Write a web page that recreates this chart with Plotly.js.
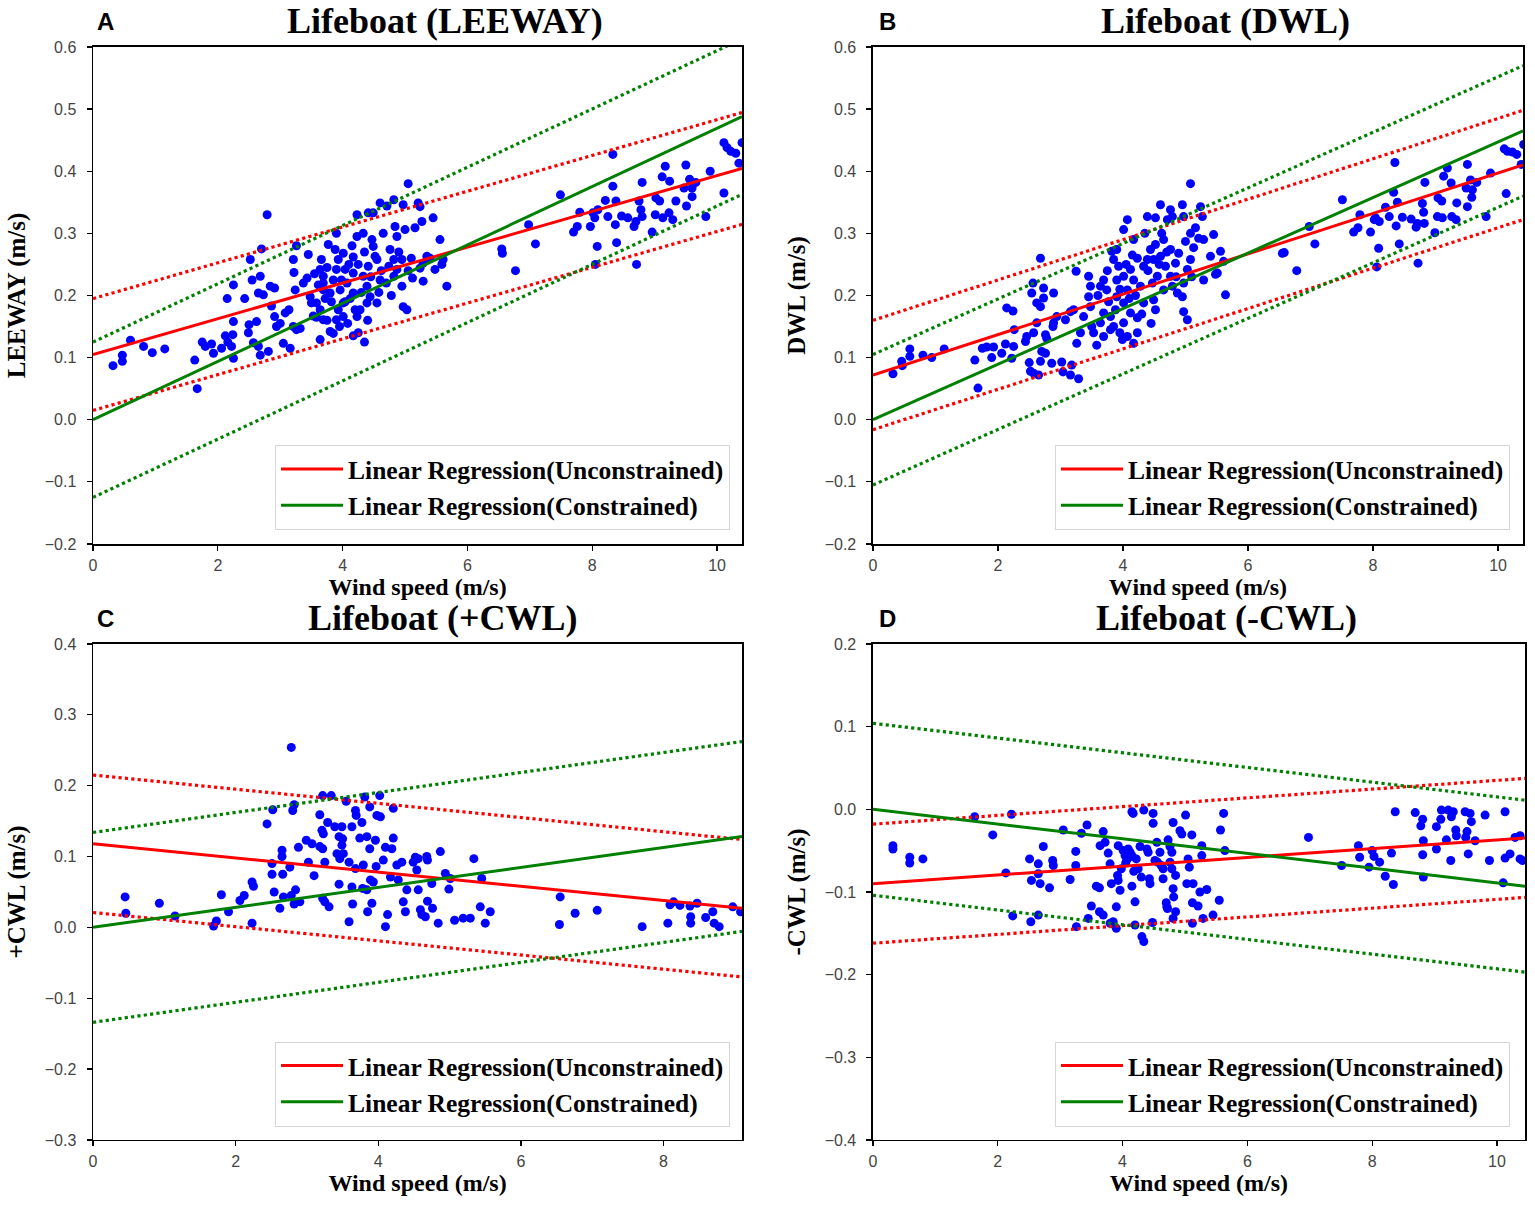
<!DOCTYPE html>
<html>
<head>
<meta charset="utf-8">
<script src="https://cdn.plot.ly/plotly-3.0.1.min.js"></script>
<style>
  html, body { margin: 0; padding: 0; background: #fff; }
  #chart { width: 1535px; height: 1210px; }
</style>
</head>
<body>
<div id="chart"></div>
<script>
// ---- Panel A: LEEWAY vs wind speed ----
var windA = [
  0.32,0.47,0.47,0.60,0.81,0.95,1.15,1.63,1.67,1.75,1.80,1.90,1.93,
  2.06,2.12,2.16,2.24,2.22,2.25,2.25,2.15,2.25,2.43,2.52,2.70,2.79,
  2.50,2.62,2.49,2.57,2.65,2.68,2.81,2.55,2.68,2.65,2.73,2.84,2.91,
  2.86,2.91,2.94,3.00,3.05,3.16,3.08,3.21,3.26,3.32,
  3.14,3.22,3.21,3.26,3.24,3.45,3.37,3.43,3.48,3.50,3.53,3.58,3.64,3.66,3.69,
  3.69,3.64,3.69,3.64,3.80,3.69,3.61,3.77,3.88,3.90,3.93,3.90,3.85,3.96,3.80,
  4.01,3.93,4.01,3.90,3.85,4.04,4.07,4.04,4.01,4.17,4.17,4.17,4.20,4.23,4.17,
  4.23,4.23,4.33,4.41,4.49,4.47,4.49,4.52,4.41,4.33,4.39,4.44,4.55,4.39,4.28,
  4.60,4.55,4.65,4.60,4.71,4.82,4.84,4.87,4.76,4.82,4.74,4.87,4.95,4.82,4.95,
  5.00,5.03,4.97,4.97,5.05,5.10,5.16,5.21,5.27,5.24,5.29,5.35,5.40,5.48,5.45,
  5.56,5.59,5.61,5.67,5.29,5.24,
  3.55,3.75,3.82,3.98,4.10,4.12,4.25,4.30,4.45,4.58,4.62,4.70,4.78,
  4.90,5.05,5.12,4.15,4.35,3.72,3.58,3.95,4.08,4.25,4.40,4.35,3.75,
  6.55,6.56,6.77,6.98,7.09,7.49,7.80,7.76,7.70,7.97,8.04,8.01,8.09,8.08,8.05,
  8.21,8.25,8.33,8.33,8.38,8.37,8.39,8.47,8.57,8.67,8.70,8.71,8.75,8.78,8.80,
  8.80,8.96,9.01,9.02,9.08,9.12,9.13,9.17,9.23,9.24,9.29,9.34,9.50,9.51,9.47,
  9.56,9.60,9.60,9.66,9.82,9.89,10.11,10.11,10.16,10.22,10.30,10.35,10.40
];
var leewayA = [
  0.087,0.094,0.104,0.128,0.118,0.108,0.114,0.096,0.050,0.125,0.118,0.122,0.107,
  0.115,0.135,0.125,0.137,0.118,0.099,0.158,0.195,0.217,0.195,0.258,0.275,0.330,
  0.153,0.158,0.140,0.124,0.118,0.104,0.110,0.225,0.231,0.204,0.201,0.215,0.212,
  0.183,0.166,0.150,0.155,0.123,0.115,0.172,0.150,0.145,0.147,
  0.177,0.237,0.258,0.280,0.209,0.266,0.220,0.228,0.198,0.188,0.167,0.188,0.242,0.258,0.231,
  0.209,0.177,0.161,0.129,0.142,0.220,0.217,0.282,0.274,0.300,0.258,0.242,0.225,0.209,0.204,
  0.188,0.177,0.166,0.161,0.139,0.190,0.220,0.242,0.268,0.262,0.236,0.204,0.177,0.166,0.135,
  0.295,0.330,0.300,0.333,0.333,0.290,0.279,0.263,0.247,0.231,0.215,0.198,0.188,0.188,0.177,
  0.225,0.258,0.300,0.349,0.344,0.354,0.311,0.295,0.274,0.258,0.247,0.242,0.215,0.231,0.258,
  0.306,0.177,0.182,0.346,0.380,0.260,0.309,0.349,0.319,0.343,0.252,0.263,0.260,0.242,0.325,
  0.290,0.250,0.258,0.215,0.223,0.244,
  0.235,0.245,0.190,0.225,0.250,0.195,0.250,0.205,0.230,0.205,0.240,0.220,0.200,
  0.270,0.240,0.228,0.280,0.270,0.195,0.165,0.150,0.155,0.140,0.160,0.125,0.160,
  0.275,0.268,0.240,0.314,0.283,0.362,0.334,0.311,0.302,0.311,0.325,0.333,0.338,0.279,0.250,
  0.353,0.327,0.427,0.376,0.352,0.314,0.285,0.328,0.325,0.311,0.319,0.250,0.352,0.338,0.327,
  0.382,0.302,0.330,0.357,0.352,0.391,0.325,0.408,0.333,0.384,0.322,0.352,0.410,0.344,0.373,
  0.387,0.373,0.359,0.382,0.327,0.400,0.365,0.446,0.438,0.432,0.429,0.413,0.446
];

// ---- Panel B: DWL vs wind speed ----
var windB = [
  0.32,0.46,0.47,0.59,0.59,0.80,0.94,1.14,1.63,1.68,1.75,1.82,1.93,
  1.90,2.06,2.12,2.25,2.22,2.14,2.24,2.26,2.44,2.46,2.50,2.52,
  2.57,2.62,2.56,2.54,2.62,2.68,2.73,2.68,2.73,2.76,2.78,2.70,2.68,2.76,2.86,
  2.88,2.89,2.89,2.94,2.57,2.65,3.02,3.04,3.16,3.18,3.29,
  3.08,3.16,3.21,3.26,3.25,3.32,3.37,3.45,3.48,3.45,3.48,3.50,3.53,3.58,3.64,
  3.69,3.69,3.64,3.69,3.74,3.77,3.80,3.85,3.88,3.90,3.90,3.93,3.85,3.82,3.90,
  4.01,4.07,4.17,4.23,4.12,4.17,4.01,4.07,4.01,4.12,4.01,4.07,3.99,4.17,4.23,
  4.23,4.33,4.28,4.33,4.39,4.44,4.52,4.49,4.39,4.52,4.60,4.71,4.76,4.79,4.95,
  4.97,5.08,5.16,5.24,5.27,5.21,5.13,5.08,5.03,4.97,4.95,4.97,5.03,4.76,4.65,
  4.60,4.55,4.49,4.52,4.65,4.76,4.84,4.89,5.00,5.29,5.40,5.45,5.56,5.61,5.48,
  5.51,5.29,5.64,5.08,4.47,4.68,4.79,4.87,
  3.60,3.75,3.95,4.05,4.10,4.20,4.30,4.40,4.58,4.70,4.85,5.10,4.15,4.35,4.62,3.80,3.95,4.45,
  6.55,6.58,6.78,6.98,7.07,7.51,7.79,7.76,7.69,7.96,8.02,8.04,8.10,8.09,8.06,
  8.20,8.26,8.35,8.33,8.39,8.37,8.42,8.47,8.61,8.69,8.71,8.72,8.79,8.81,8.82,
  8.83,8.99,9.03,9.04,9.10,9.13,9.11,9.19,9.26,9.25,9.33,9.34,9.51,9.51,9.49,
  9.56,9.59,9.58,9.66,9.81,9.88,10.13,10.10,10.15,10.23,10.30,10.37,10.41
];
var dwlB = [
  0.074,0.094,0.087,0.102,0.114,0.104,0.100,0.114,0.096,0.051,0.115,0.117,0.117,
  0.100,0.107,0.122,0.118,0.099,0.180,0.175,0.145,0.126,0.134,0.092,0.078,
  0.140,0.156,0.220,0.204,0.188,0.182,0.196,0.260,0.212,0.137,0.131,0.110,0.094,0.107,0.091,
  0.150,0.156,0.204,0.166,0.075,0.072,0.093,0.077,0.072,0.088,0.066,
  0.161,0.174,0.177,0.123,0.239,0.140,0.166,0.231,0.215,0.198,0.182,0.150,0.140,0.120,0.156,
  0.172,0.134,0.215,0.225,0.209,0.190,0.166,0.150,0.177,0.198,0.225,0.247,0.258,0.271,0.274,
  0.306,0.322,0.290,0.260,0.242,0.225,0.231,0.209,0.188,0.172,0.156,0.134,0.129,0.123,0.164,
  0.140,0.188,0.215,0.247,0.258,0.274,0.282,0.258,0.327,0.325,0.346,0.322,0.338,0.327,0.346,
  0.327,0.300,0.309,0.343,0.327,0.292,0.277,0.258,0.242,0.220,0.198,0.174,0.161,0.274,0.290,
  0.263,0.231,0.193,0.177,0.209,0.231,0.252,0.268,0.287,0.290,0.263,0.298,0.271,0.255,0.234,
  0.236,0.225,0.201,0.380,0.220,0.247,0.215,0.204,
  0.200,0.240,0.210,0.250,0.195,0.200,0.170,0.240,0.250,0.270,0.230,0.230,0.265,0.300,0.300,0.145,0.140,0.155,
  0.268,0.269,0.240,0.311,0.283,0.354,0.330,0.309,0.302,0.302,0.322,0.325,0.319,0.276,0.246,
  0.342,0.327,0.414,0.366,0.350,0.312,0.283,0.326,0.323,0.310,0.316,0.252,0.348,0.334,0.316,
  0.382,0.301,0.327,0.357,0.352,0.392,0.325,0.405,0.327,0.381,0.322,0.349,0.411,0.343,0.373,
  0.386,0.370,0.358,0.382,0.327,0.397,0.364,0.436,0.432,0.431,0.427,0.411,0.443
];

// ---- Panel C: +CWL vs wind speed ----
var windC = [
  0.45,0.46,0.93,1.15,1.69,1.73,1.80,1.90,2.06,2.12,2.23,2.23,2.25,
  2.44,2.51,2.51,2.52,2.54,2.62,2.65,2.65,2.66,2.67,2.76,2.78,2.80,2.82,2.84,
  2.82,2.90,2.88,2.99,3.02,3.07,3.10,3.18,3.18,3.21,3.23,3.22,3.25,3.22,3.25,
  3.31,3.22,3.29,3.34,3.39,3.42,3.46,3.45,3.49,3.50,3.49,3.51,3.45,3.55,3.59,
  3.59,3.63,3.63,3.64,3.68,3.69,3.68,3.74,3.77,3.78,3.79,3.81,3.84,3.84,3.85,
  3.88,3.88,3.89,3.93,3.91,3.96,3.98,4.02,4.03,3.97,4.07,4.10,4.10,4.13,4.17,
  4.19,4.21,4.21,4.26,4.28,4.33,4.35,4.38,4.40,4.52,4.49,4.56,4.54,4.56,4.59,
  4.61,4.66,4.68,4.69,4.69,4.75,4.76,4.84,4.87,4.94,4.99,5.01,5.07,5.19,5.29,
  5.34,5.43,5.45,5.50,5.57,6.55,6.54,6.76,7.07,7.70,8.06,8.09,8.14,8.23,8.37,
  8.47,8.38,8.38,8.59,8.69,8.71,8.78,8.97,9.08,2.78
];
var pcwlC = [
  0.043,0.020,0.034,0.016,0.002,0.009,0.046,0.022,0.038,0.045,0.006,0.064,0.058,
  0.146,0.090,0.075,0.166,0.050,0.027,0.100,0.109,0.075,0.043,0.085,0.045,0.165,0.173,0.053,
  0.033,0.036,0.113,0.123,0.092,0.118,0.073,0.159,0.114,0.137,0.132,0.111,0.092,0.041,0.036,
  0.029,0.186,0.148,0.186,0.142,0.104,0.097,0.061,0.142,0.125,0.116,0.104,0.128,0.178,0.092,
  0.008,0.142,0.057,0.033,0.165,0.158,0.083,0.126,0.148,0.055,0.088,0.184,0.053,0.128,0.022,
  0.170,0.111,0.067,0.064,0.034,0.123,0.158,0.186,0.156,0.086,0.095,0.113,0.001,0.018,0.071,
  0.111,0.126,0.168,0.088,0.067,0.092,0.036,0.022,0.053,0.099,0.092,0.097,0.081,0.053,0.025,
  0.018,0.015,0.100,0.095,0.037,0.062,0.027,0.006,0.107,0.076,0.054,0.069,0.010,0.013,0.013,
  0.097,0.029,0.069,0.006,0.022,0.043,0.004,0.020,0.024,0.001,0.006,0.032,0.036,0.031,0.030,
  0.034,0.015,0.006,0.014,0.022,0.006,0.001,0.029,0.022,0.254
];

// ---- Panel D: -CWL vs wind speed ----
var windD = [
  0.32,0.32,0.59,0.59,0.80,1.63,1.92,2.13,2.22,2.24,2.51,2.53,2.54,2.65,2.65,
  2.68,2.65,2.73,2.83,2.88,2.89,3.05,3.16,3.25,3.25,3.26,3.34,3.43,3.45,3.50,
  3.58,3.63,3.63,3.64,3.69,3.69,3.72,3.77,3.80,3.80,3.82,3.85,3.90,3.90,3.92,
  3.93,3.96,3.93,4.01,4.04,4.07,4.09,4.12,4.15,4.17,4.15,4.15,4.20,4.20,4.25,
  4.31,4.34,4.34,4.39,4.41,4.44,4.43,4.48,4.49,4.49,4.52,4.56,4.60,4.65,4.65,
  4.70,4.71,4.72,4.73,4.76,4.79,4.76,4.79,4.81,4.81,4.82,4.85,4.85,4.81,4.92,
  4.95,5.01,5.03,5.05,5.07,5.11,5.12,5.13,5.12,5.21,5.24,5.27,5.27,5.29,5.35,
  5.45,5.55,5.57,5.62,5.64,6.98,7.51,7.78,7.80,8.00,8.03,7.95,8.12,8.21,8.31,
  8.34,8.37,8.69,8.81,8.78,8.82,8.81,8.82,9.03,9.03,9.10,9.11,9.19,9.26,9.22,
  9.30,9.27,9.34,9.35,9.49,9.57,9.59,9.52,9.50,9.54,9.65,9.81,9.88,10.13,10.13,
  10.21,10.10,10.29,10.37,10.37,10.41,
  4.05,4.10,4.22,4.28,3.98,4.18,4.30,4.55,4.62
];
var ncwlD = [
  -0.044,-0.048,-0.058,-0.065,-0.060,-0.009,-0.031,-0.077,-0.006,-0.129,-0.060,-0.136,-0.086,-0.066,-0.128,
  -0.090,-0.078,-0.045,-0.095,-0.062,-0.068,-0.025,-0.085,-0.051,-0.068,-0.142,-0.029,-0.019,-0.132,-0.117,
  -0.093,-0.095,-0.124,-0.044,-0.027,-0.128,-0.040,-0.053,-0.066,-0.138,-0.090,-0.136,-0.144,-0.118,-0.080,
  -0.086,-0.098,-0.044,-0.050,-0.056,-0.061,-0.048,-0.052,-0.056,-0.005,-0.003,-0.093,-0.112,-0.140,-0.072,
  -0.154,-0.160,-0.001,-0.048,-0.052,-0.090,-0.084,-0.137,-0.017,-0.005,-0.062,-0.064,-0.052,-0.072,-0.084,
  -0.113,-0.118,-0.120,-0.037,-0.045,-0.052,-0.064,-0.072,-0.016,-0.096,-0.106,-0.124,-0.080,-0.132,-0.026,
  -0.030,-0.007,-0.090,-0.060,-0.070,-0.031,-0.138,-0.090,-0.113,-0.117,-0.100,-0.044,-0.056,-0.132,-0.097,
  -0.128,-0.110,-0.025,-0.005,-0.050,-0.034,-0.068,-0.044,-0.058,-0.050,-0.057,-0.070,-0.064,-0.081,-0.053,
  -0.091,-0.003,-0.004,-0.012,-0.020,-0.038,-0.055,-0.082,-0.021,-0.048,-0.012,-0.001,-0.037,-0.062,-0.001,
  -0.003,-0.009,-0.025,-0.032,-0.003,-0.005,-0.015,-0.027,-0.034,-0.054,-0.038,-0.007,-0.062,-0.003,-0.059,
  -0.054,-0.089,-0.034,-0.032,-0.060,-0.062,
  -0.065,-0.058,-0.060,-0.045,-0.072,-0.075,-0.082,-0.040,-0.068
];

// ---- regression fits, one entry per panel (A, B, C, D) ----
var panelLetters = ['A', 'B', 'C', 'D'];
var panelTitles = ['Lifeboat (LEEWAY)', 'Lifeboat (DWL)', 'Lifeboat (+CWL)', 'Lifeboat (-CWL)'];
var yLabels = ['LEEWAY (m/s)', 'DWL (m/s)', '+CWL (m/s)', '-CWL (m/s)'];
var xMax = [10.4, 10.4, 9.1, 10.45];
var yRanges = [[-0.2, 0.6], [-0.2, 0.6], [-0.3, 0.4], [-0.4, 0.2]];
var freeIntercept = [0.105, 0.072, 0.118, -0.090];
var freeSlope = [0.0288, 0.0325, -0.0100, 0.0053];
var freeBand = [0.090, 0.088, 0.097, 0.072];
var fixedSlope = [0.0469, 0.0447, 0.0141, -0.0089];
var fixedBand = [0.125, 0.105, 0.134, 0.104];

var windSets = [windA, windB, windC, windD];
var valueSets = [leewayA, dwlB, pcwlC, ncwlD];

var RED = '#ff0000', GREEN = '#008000', BLUE = '#0000ff';
var serif = 'Liberation Serif, Times New Roman, serif';
var sans = 'Liberation Sans, Arial, sans-serif';

// plot-area boxes in paper fractions
var xDomains = [[0.0606, 0.4834], [0.5687, 0.9922], [0.0606, 0.4834], [0.5687, 0.9935]];
var yDomains = [[0.5504, 0.9612], [0.5504, 0.9612], [0.0579, 0.4678], [0.0579, 0.4678]];
var titleCenters = [445, 1225, 443, 1226];

var data = [];
var layout = {
  width: 1535, height: 1210,
  margin: {l: 0, r: 0, t: 0, b: 0},
  paper_bgcolor: '#fff', plot_bgcolor: '#fff',
  showlegend: true,
  annotations: []
};

function lineTrace(i, x1, y0, y1, color, dash, name, legendRef, show) {
  var sfx = i === 0 ? '' : String(i + 1);
  return {
    x: [0, x1], y: [y0, y1],
    xaxis: 'x' + sfx, yaxis: 'y' + sfx,
    mode: 'lines', type: 'scatter',
    line: {color: color, width: dash ? 3.2 : 3, dash: dash || 'solid'},
    name: name, showlegend: show, legend: legendRef, legendgroup: name,
    hoverinfo: 'skip'
  };
}

for (var i = 0; i < 4; i++) {
  var sfx = i === 0 ? '' : String(i + 1);
  var legRef = 'legend' + sfx;
  var xm = xMax[i];
  var r0 = freeIntercept[i], r1 = freeIntercept[i] + freeSlope[i] * xm;
  var g0 = 0, g1 = fixedSlope[i] * xm;

  data.push({
    x: windSets[i], y: valueSets[i],
    xaxis: 'x' + sfx, yaxis: 'y' + sfx,
    mode: 'markers', type: 'scatter',
    marker: {color: BLUE, size: 9},
    showlegend: false, legend: legRef
  });
  data.push(lineTrace(i, xm, r0 + freeBand[i], r1 + freeBand[i], RED, 'dot', 'ru', legRef, false));
  data.push(lineTrace(i, xm, r0 - freeBand[i], r1 - freeBand[i], RED, 'dot', 'rl', legRef, false));
  data.push(lineTrace(i, xm, g0 + fixedBand[i], g1 + fixedBand[i], GREEN, 'dot', 'gu', legRef, false));
  data.push(lineTrace(i, xm, g0 - fixedBand[i], g1 - fixedBand[i], GREEN, 'dot', 'gl', legRef, false));
  data.push(lineTrace(i, xm, r0, r1, RED, null, 'Linear Regression(Unconstrained)', legRef, true));
  data.push(lineTrace(i, xm, g0, g1, GREEN, null, 'Linear Regression(Constrained)', legRef, true));

  layout['xaxis' + sfx] = {
    domain: xDomains[i], anchor: 'y' + sfx,
    range: [0, xm], dtick: 2, tick0: 0,
    showgrid: false, zeroline: false,
    showline: true, linecolor: '#000', linewidth: 1.5, mirror: true,
    ticks: 'outside', ticklen: 5, tickwidth: 1.2, tickcolor: '#000',
    ticklabelstandoff: 1,
    tickfont: {family: sans, size: 16, color: '#444'},
    title: {text: 'Wind speed (m/s)', standoff: 0,
            font: {family: serif, size: 24, color: '#000', weight: 'bold'}}
  };
  layout['yaxis' + sfx] = {
    domain: yDomains[i], anchor: 'x' + sfx,
    range: yRanges[i], dtick: 0.1, tickformat: '.1f',
    showgrid: false, zeroline: false,
    showline: true, linecolor: '#000', linewidth: 1.5, mirror: true,
    ticks: 'outside', ticklen: 5, tickwidth: 1.2, tickcolor: '#000',
    ticklabelstandoff: 7,
    tickfont: {family: sans, size: 16, color: '#444'},
    title: {text: yLabels[i], standoff: 12,
            font: {family: serif, size: 25, color: '#000', weight: 'bold'}}
  };

  var isTop = i < 2;
  var isRight = i % 2 === 1;
  layout[legRef] = {
    x: isRight ? 0.9837 : 0.4756, xanchor: 'right',
    y: isTop ? 0.562 : 0.069, yanchor: 'bottom',
    bgcolor: 'rgba(255,255,255,0.85)', bordercolor: '#d6d6d6', borderwidth: 1,
    font: {family: serif, size: 25.5, color: '#000', weight: 'bold'},
    itemwidth: 62, tracegroupgap: 4, traceorder: 'normal'
  };

  var rowY = isTop ? 1 - 21 / 1210 : 1 - 618 / 1210;
  layout.annotations.push({
    text: panelTitles[i], xref: 'paper', yref: 'paper',
    x: titleCenters[i] / 1535, y: rowY,
    xanchor: 'center', yanchor: 'middle', showarrow: false,
    font: {family: serif, size: 36, color: '#000', weight: 'bold'}
  });
  layout.annotations.push({
    text: panelLetters[i], xref: 'paper', yref: 'paper',
    x: isRight ? 887 / 1535 : 105 / 1535, y: rowY,
    xanchor: 'center', yanchor: 'middle', showarrow: false,
    font: {family: sans, size: 24, color: '#000', weight: 'bold'}
  });
}

Plotly.newPlot('chart', data, layout, {displayModeBar: false, staticPlot: true});
</script>
</body>
</html>
